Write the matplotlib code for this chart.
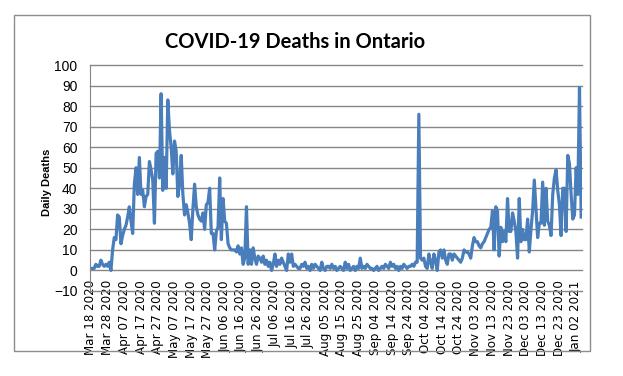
import numpy as np
import pandas as pd
import matplotlib
matplotlib.use("Agg")
import matplotlib.pyplot as plt
from matplotlib.patches import Rectangle

# daily deaths, one value per day from Mar 18 2020
start_date = "2020-03-18"
daily_deaths = [
    1, 1, 1, 3, 2, 2, 5, 3, 2, 3,          # Mar 18
    2, 4, 0, 10, 16, 15, 27, 26, 13, 17,   # Mar 28
    20, 22, 26, 31, 24, 18, 42, 50, 37, 55,  # Apr 07
    37, 39, 31, 36, 37, 53, 49, 44, 23, 57,  # Apr 17
    58, 45, 86, 39, 55, 40, 83, 68, 60, 47,  # Apr 27
    63, 58, 36, 42, 56, 37, 27, 32, 28, 23,  # May 07
    15, 30, 42, 31, 27, 25, 24, 28, 20, 32,  # May 17
    33, 40, 18, 18, 10, 19, 21, 45, 15, 35,  # May 27
    24, 23, 13, 11, 10, 10, 10, 9, 12, 8,    # Jun 06
    11, 3, 6, 31, 3, 10, 3, 11, 6, 3,        # Jun 16
    7, 6, 4, 7, 3, 5, 2, 4, 0, 3,            # Jun 26
    8, 2, 5, 3, 6, 4, 2, 0, 8, 4,            # Jul 06
    8, 2, 3, 2, 1, 1, 3, 2, 4, 1,            # Jul 16
    2, 0, 3, 1, 3, 2, 1, 0, 4, 1,            # Jul 26
    0, 2, 2, 1, 3, 1, 2, 0, 1, 2,            # Aug 05
    1, 0, 4, 1, 3, 0, 1, 2, 0, 2,            # Aug 15
    1, 6, 1, 2, 1, 3, 2, 1, 1, 0,            # Aug 25
    1, 2, 0, 1, 2, 1, 3, 2, 1, 4,            # Sep 04
    2, 3, 1, 2, 0, 2, 1, 3, 2, 1,            # Sep 14
    2, 2, 3, 2, 4, 4, 76, 6, 5, 6,           # Sep 24
    2, 1, 8, 4, 1, 8, 5, 0, 9, 10,           # Oct 04
    6, 10, 5, 3, 8, 8, 5, 8, 7, 6,           # Oct 14
    5, 4, 6, 10, 9, 9, 8, 6, 12, 16,         # Oct 24
    14, 14, 12, 11, 13, 14, 16, 18, 20, 21,  # Nov 03
    29, 10, 31, 29, 7, 21, 14, 19, 14, 35,   # Nov 13
    19, 19, 28, 24, 19, 6, 35, 14, 20, 15,   # Nov 23
    15, 25, 9, 20, 29, 44, 30, 16, 23, 23,   # Dec 03
    43, 22, 40, 24, 22, 17, 37, 45, 49, 39,  # Dec 13
    32, 17, 40, 40, 19, 56, 52, 37, 25, 27,  # Dec 23
    50, 37, 89, 26,                          # Jan 02
]

dates = pd.date_range(start_date, periods=len(daily_deaths), freq="D")
days = np.arange(len(daily_deaths))
tick_days = days[::10]
tick_labels = [d.strftime("%b %d %Y") for d in dates[::10]]

W, H = 623, 376
fig = plt.figure(figsize=(W / 100, H / 100), dpi=100)

# chart area border
fig.patches.append(Rectangle((14 / W, 1 - 351 / H), 576 / W, 336 / H,
                             transform=fig.transFigure, fill=False,
                             edgecolor="#8c8c8c", linewidth=1))

ax = fig.add_axes([90 / W, 1 - 291 / H, 492 / W, 226 / H])
# category axis crosses at 0 (must be set before tick labels, it resets them)
ax.spines["bottom"].set_position(("data", 0))
ax.spines["bottom"].set_visible(False)
for side in ["top", "right"]:
    ax.spines[side].set_visible(False)
ax.spines["left"].set_color("#868686")

ax.plot(days, daily_deaths, color="#4a7ebb", linewidth=2.3, solid_joinstyle="round")

ax.set_ylim(-10, 100)
ax.set_yticks(range(-10, 101, 10))
ax.set_xlim(-0.5, len(daily_deaths) - 0.5)
ax.set_xticks(tick_days)
ax.set_xticklabels(tick_labels, rotation=90, fontsize=8.6, family="DejaVu Sans")

ax.grid(axis="y", color="#868686", linewidth=1, clip_on=False)
ax.set_axisbelow(True)
ax.tick_params(axis="x", length=0, pad=7)
ax.tick_params(axis="y", length=0, pad=9, labelsize=10)
for lbl in ax.get_yticklabels():
    lbl.set_family("Liberation Sans")

fig.text(295 / W, 1 - 42 / H, "COVID-19 Deaths in Ontario", ha="center", va="center",
         fontsize=14.5, fontweight="bold", family="Lato")
fig.text(47 / W, 1 - 182 / H, "Daily Deaths", ha="center", va="center", rotation=90,
         fontsize=8, fontweight="bold", family="Liberation Sans")

fig.savefig("out.png", dpi=100)
